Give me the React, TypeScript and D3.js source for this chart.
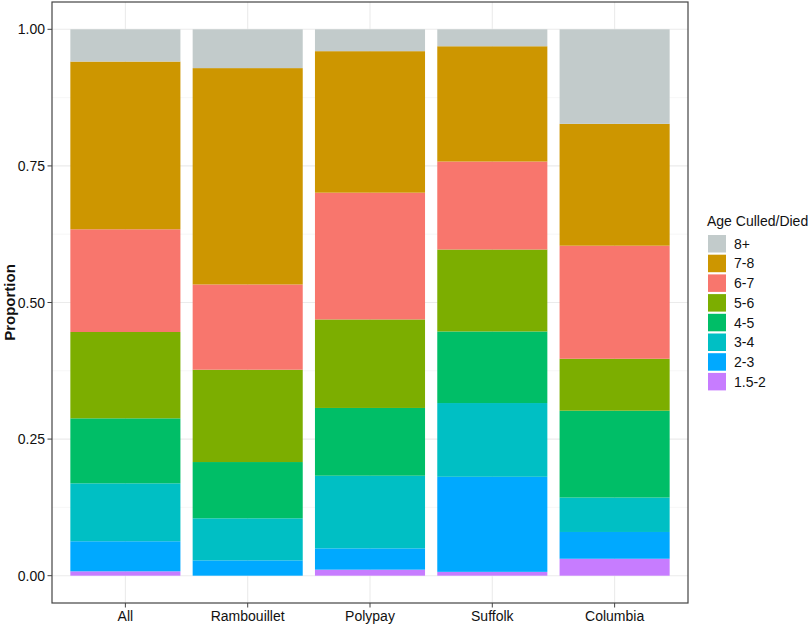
import * as d3 from 'd3';

const breeds = ['All', 'Rambouillet', 'Polypay', 'Suffolk', 'Columbia'];
// stacking order, bottom to top
const ageGroups = ['1.5-2', '2-3', '3-4', '4-5', '5-6', '6-7', '7-8', '8+'];
const ageColors = ['#C77CFF', '#00A9FF', '#00BFC4', '#00BE67', '#7CAE00', '#F8766D', '#CD9600', '#C2CBCB'];

// proportion of each age group per breed (same order as ageGroups)
const allVals = [0.008, 0.055, 0.106, 0.119, 0.158, 0.188, 0.307, 0.059];
const rambouilletVals = [0.0, 0.028, 0.077, 0.103, 0.169, 0.156, 0.396, 0.071];
const polypayVals = [0.011, 0.039, 0.133, 0.124, 0.162, 0.232, 0.259, 0.04];
const suffolkVals = [0.007, 0.174, 0.135, 0.131, 0.15, 0.161, 0.211, 0.031];
const columbiaVals = [0.031, 0.049, 0.063, 0.159, 0.095, 0.207, 0.223, 0.173];

const yTicks = [0, 0.25, 0.5, 0.75, 1];
const yMinor = [0.125, 0.375, 0.625, 0.875];

const W = 809;
const H = 627;
const panel = { left: 52, right: 688, top: 2, bottom: 603 };
const font = '"Liberation Sans", Arial, Helvetica, sans-serif';

export default function App() {
  const valuesByBreed = [allVals, rambouilletVals, polypayVals, suffolkVals, columbiaVals];
  const rows = breeds.map((b, i) => {
    const row: Record<string, any> = { breed: b };
    ageGroups.forEach((g, j) => (row[g] = valuesByBreed[i][j]));
    return row;
  });
  const series = d3.stack<Record<string, any>>().keys(ageGroups)(rows);

  const x = d3
    .scaleBand()
    .domain(breeds)
    .range([panel.left, panel.right])
    .paddingInner(0.1)
    .paddingOuter(0.15);

  const y = d3.scaleLinear().domain([-0.05, 1.05]).range([panel.bottom, panel.top]);
  const fmt = d3.format('.2f');
  const color = d3.scaleOrdinal<string, string>().domain(ageGroups).range(ageColors);

  const legendX = 708;
  const legendTop = 235;
  const keyStep = 19.7;
  const legendOrder = [...ageGroups].reverse();

  return (
    <svg width={W} height={H} style={{ position: 'absolute', left: 0, top: 0 }} fontFamily={font}>
      <rect x={0} y={0} width={W} height={H} fill="#fff" />
      {/* grid */}
      {yMinor.map((t) => (
        <line key={'mn' + t} x1={panel.left} x2={panel.right} y1={y(t)} y2={y(t)} stroke="#F2F2F2" strokeWidth={0.6} />
      ))}
      {yTicks.map((t) => (
        <line key={'mj' + t} x1={panel.left} x2={panel.right} y1={y(t)} y2={y(t)} stroke="#EBEBEB" strokeWidth={1.1} />
      ))}
      {breeds.map((b) => (
        <line
          key={'vg' + b}
          x1={x(b)! + x.bandwidth() / 2}
          x2={x(b)! + x.bandwidth() / 2}
          y1={panel.top}
          y2={panel.bottom}
          stroke="#EBEBEB"
          strokeWidth={1.1}
        />
      ))}
      {/* bars */}
      {series.map((s) => (
        <g key={s.key} fill={color(s.key)}>
          {s.map((d) => (
            <rect
              key={d.data.breed}
              x={x(d.data.breed)!}
              width={x.bandwidth()}
              y={y(d[1])}
              height={Math.max(0, y(d[0]) - y(d[1]))}
            />
          ))}
        </g>
      ))}
      {/* panel border */}
      <rect
        x={panel.left}
        y={panel.top}
        width={panel.right - panel.left}
        height={panel.bottom - panel.top}
        fill="none"
        stroke="#444"
        strokeWidth={1.2}
      />
      {/* y axis */}
      {yTicks.map((t) => (
        <g key={'yt' + t}>
          <line x1={panel.left - 4.5} x2={panel.left} y1={y(t)} y2={y(t)} stroke="#444" strokeWidth={1} />
          <text x={panel.left - 7} y={y(t)} dy="0.36em" textAnchor="end" fontSize={14} fill="#111">
            {fmt(t)}
          </text>
        </g>
      ))}
      {/* x axis */}
      {breeds.map((b) => (
        <g key={'xt' + b}>
          <line
            x1={x(b)! + x.bandwidth() / 2}
            x2={x(b)! + x.bandwidth() / 2}
            y1={panel.bottom}
            y2={panel.bottom + 4.5}
            stroke="#444"
            strokeWidth={1}
          />
          <text x={x(b)! + x.bandwidth() / 2} y={621} textAnchor="middle" fontSize={14} fill="#111">
            {b}
          </text>
        </g>
      ))}
      <text
        transform={`translate(15,${(panel.top + panel.bottom) / 2}) rotate(-90)`}
        textAnchor="middle"
        fontSize={15}
        fontWeight="bold"
        fill="#111"
      >
        Proportion
      </text>
      {/* legend */}
      <text x={707} y={226} fontSize={14} fill="#111">
        Age Culled/Died
      </text>
      {legendOrder.map((g, i) => (
        <g key={'lg' + g}>
          <rect x={legendX} y={legendTop + i * keyStep} width={18} height={17.5} fill={color(g)} />
          <text x={734} y={legendTop + i * keyStep + 8.75} dy="0.36em" fontSize={14} fill="#111">
            {g}
          </text>
        </g>
      ))}
    </svg>
  );
}
